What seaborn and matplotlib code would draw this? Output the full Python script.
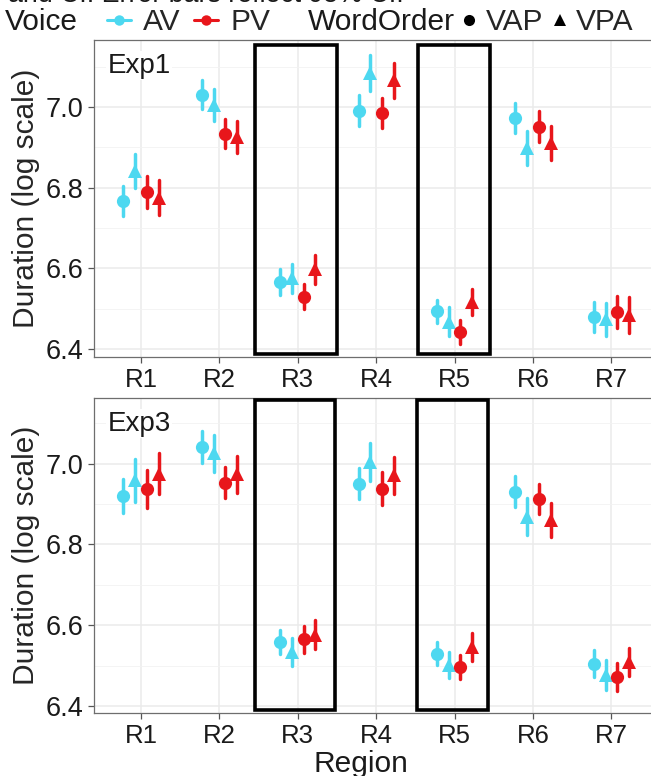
import numpy as np
import pandas as pd
import matplotlib
matplotlib.use("Agg")
import matplotlib.pyplot as plt
from matplotlib.patches import Rectangle
from matplotlib.lines import Line2D
from matplotlib.ticker import MultipleLocator
import seaborn as sns

# ---------------- data ----------------
regions = ["R1", "R2", "R3", "R4", "R5", "R6", "R7"]
voices = ["AV", "PV"]
orders = ["VAP", "VPA"]

exp1_av_vap = [6.766, 7.030, 6.565, 6.991, 6.493, 6.973, 6.479]
exp1_av_vpa = [6.841, 7.004, 6.575, 7.084, 6.468, 6.899, 6.473]
exp1_pv_vap = [6.789, 6.934, 6.530, 6.985, 6.442, 6.951, 6.491]
exp1_pv_vpa = [6.775, 6.926, 6.597, 7.066, 6.516, 6.911, 6.485]
exp1_av_vap_ci = [0.037, 0.036, 0.032, 0.038, 0.029, 0.038, 0.037]
exp1_av_vpa_ci = [0.043, 0.040, 0.036, 0.044, 0.036, 0.042, 0.041]
exp1_pv_vap_ci = [0.039, 0.036, 0.030, 0.036, 0.030, 0.038, 0.040]
exp1_pv_vpa_ci = [0.044, 0.039, 0.037, 0.043, 0.032, 0.043, 0.045]

exp3_av_vap = [6.920, 7.041, 6.558, 6.950, 6.530, 6.930, 6.505]
exp3_av_vpa = [6.959, 7.025, 6.534, 7.004, 6.502, 6.868, 6.478]
exp3_pv_vap = [6.936, 6.953, 6.565, 6.938, 6.497, 6.912, 6.472]
exp3_pv_vpa = [6.975, 6.973, 6.577, 6.971, 6.546, 6.860, 6.509]
exp3_av_vap_ci = [0.042, 0.039, 0.030, 0.038, 0.028, 0.038, 0.033]
exp3_av_vpa_ci = [0.053, 0.045, 0.035, 0.047, 0.032, 0.046, 0.037]
exp3_pv_vap_ci = [0.047, 0.038, 0.033, 0.040, 0.030, 0.038, 0.035]
exp3_pv_vpa_ci = [0.051, 0.045, 0.036, 0.046, 0.035, 0.042, 0.035]

y_ticks = [6.4, 6.6, 6.8, 7.0]
highlighted = ["R3", "R5"]

# ---------------- build long table ----------------
series = {
    "Exp1": {("AV", "VAP"): (exp1_av_vap, exp1_av_vap_ci),
             ("AV", "VPA"): (exp1_av_vpa, exp1_av_vpa_ci),
             ("PV", "VAP"): (exp1_pv_vap, exp1_pv_vap_ci),
             ("PV", "VPA"): (exp1_pv_vpa, exp1_pv_vpa_ci)},
    "Exp3": {("AV", "VAP"): (exp3_av_vap, exp3_av_vap_ci),
             ("AV", "VPA"): (exp3_av_vpa, exp3_av_vpa_ci),
             ("PV", "VAP"): (exp3_pv_vap, exp3_pv_vap_ci),
             ("PV", "VPA"): (exp3_pv_vpa, exp3_pv_vpa_ci)},
}
rows = []
for exp, d in series.items():
    for (v, o), (means, cis) in d.items():
        for r, m, c in zip(regions, means, cis):
            for val in (m - c, m, m + c):
                rows.append(dict(Exp=exp, Region=r, Group=f"{v}-{o}", Duration=val))
df = pd.DataFrame(rows)
groups = [f"{v}-{o}" for v in voices for o in orders]

CYAN = "#4DD8F0"
RED = "#E8161B"
pal = {"AV-VAP": CYAN, "AV-VPA": CYAN, "PV-VAP": RED, "PV-VPA": RED}
mk = ["o", "^", "o", "^"]

sns.set_theme(style="white")
plt.rcParams["font.family"] = ["Liberation Sans", "DejaVu Sans"]

W, H = 651, 776
fig = plt.figure(figsize=(W / 100, H / 100), dpi=100)

def fx(px):
    return px / W

def fy(py):
    return 1 - py / H

panels = [
    ("Exp1", 40, 357, (6.380, 7.166), [(1.45, 2.50), (3.53, 4.45)], (6.388, 7.154)),
    ("Exp3", 398, 713, (6.383, 7.162), [(1.45, 2.47), (3.52, 4.42)], (6.390, 7.157)),
]
left_px, right_px = 94, 651

for i, (exp, top, bot, ylim, boxes, boxy) in enumerate(panels):
    ax = fig.add_axes([fx(left_px), fy(bot), fx(right_px - left_px), (bot - top) / H])
    sub = df[df.Exp == exp]
    sns.pointplot(data=sub, x="Region", y="Duration", hue="Group",
                  order=regions, hue_order=groups, palette=pal, markers=mk,
                  linestyles="none", dodge=0.45, errorbar=("pi", 100),
                  err_kws={"linewidth": 2.5}, markersize=9.5,
                  markeredgewidth=0, legend=False, ax=ax)
    ax.set_xlim(-0.6, 6.505)
    ax.set_ylim(*ylim)
    ax.set_yticks(y_ticks)
    ax.set_yticklabels([f"{t:.1f}" for t in y_ticks])
    ax.yaxis.set_minor_locator(MultipleLocator(0.1))
    ax.set_axisbelow(True)
    ax.grid(True, which="major", color="#EBEBEB", linewidth=1.1)
    ax.yaxis.grid(True, which="minor", color="#F2F2F2", linewidth=0.6)
    ax.tick_params(which="minor", length=0)
    ax.tick_params(which="major", length=4, width=0.9, color="#555555",
                   labelcolor="#1A1A1A", direction="out",
                   bottom=True, left=True)
    ax.tick_params(axis="x", labelsize=18.5, pad=4)
    ax.tick_params(axis="y", labelsize=19.5, pad=3.5)
    for s in ["left", "top", "bottom"]:
        ax.spines[s].set_color("#6E6E6E")
        ax.spines[s].set_linewidth(0.9)
    ax.spines["right"].set_visible(False)
    ax.set_xlabel("")
    ax.set_ylabel("Duration (log scale)", fontsize=21.5, labelpad=4)
    for (x0, x1) in boxes:
        ax.add_patch(Rectangle((x0, boxy[0]), x1 - x0, boxy[1] - boxy[0],
                               fill=False, edgecolor="black", linewidth=2.6, zorder=5,
                               clip_on=False))
    ax.text(0.024, 0.96, exp, transform=ax.transAxes, fontsize=20,
            ha="left", va="top", color="#1A1A1A",
            bbox=dict(facecolor="white", edgecolor="none", pad=1))

# x-axis title
fig.text(fx(361), fy(772), "Region", fontsize=21.5, ha="center", va="baseline",
         color="#1A1A1A")

# title (mostly cut off at top, as in the reference)
fig.text(fx(8), fy(1.8), "and CI. Error bars reflect 95% CI.", fontsize=19.3,
         ha="left", va="baseline", color="#1A1A1A")

# legend
fs = 21.5
fig.text(fx(5), fy(22), "Voice", fontsize=fs, ha="left", va="center", color="#1A1A1A")
fig.text(fx(308), fy(22), "WordOrder", fontsize=fs, ha="left", va="center", color="#1A1A1A")
h_voice = [Line2D([], [], color=CYAN, marker="o", markersize=7.5, linewidth=2.2, markeredgewidth=0),
           Line2D([], [], color=RED, marker="o", markersize=7.5, linewidth=2.2, markeredgewidth=0)]
h_order = [Line2D([], [], color="black", marker="o", markersize=8, linestyle="none", markeredgewidth=0),
           Line2D([], [], color="black", marker="^", markersize=9, linestyle="none", markeredgewidth=0)]
fig.legend(h_voice, voices, ncol=2, loc="center left",
           bbox_to_anchor=(fx(107), fy(22)), frameon=False, fontsize=fs,
           handlelength=0.8, handletextpad=0.4, columnspacing=0.47,
           borderpad=0, borderaxespad=0)
fig.legend(h_order, orders, ncol=2, loc="center left",
           bbox_to_anchor=(fx(460), fy(22)), frameon=False, fontsize=fs,
           handlelength=0.6, handletextpad=0.25, columnspacing=0.27,
           borderpad=0, borderaxespad=0)

fig.savefig("out.png", dpi=100)
